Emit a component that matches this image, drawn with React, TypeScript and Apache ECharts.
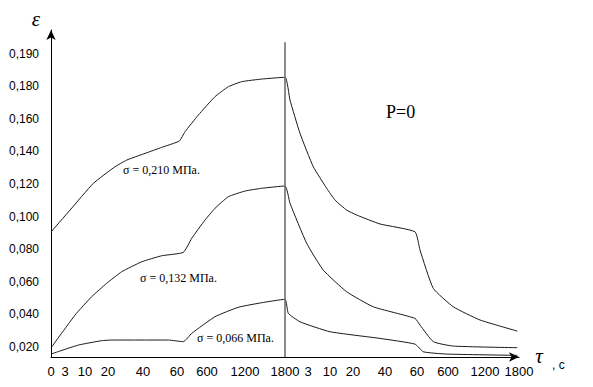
import React, { useEffect, useRef } from "react";
import * as echarts from "echarts";

// X axis: piecewise time scale, tick positions (axis units) and their labels (seconds)
const xTickPos = [0, 14, 34, 57, 92, 126, 156, 194, 234, 257, 279, 302, 334, 366, 397, 434, 468];
const xTickLabels = ["0", "3", "10", "20", "40", "60", "600", "1200", "1800", "3", "10", "20", "40", "60", "600", "1200", "1800"];

// Y axis: strain ticks and labels as printed
const yTickValues = [0.02, 0.04, 0.06, 0.08, 0.1, 0.12, 0.14, 0.16, 0.18, 0.2];
const yTickLabels = ["0,020", "0,040", "0,060", "0,080", "0,100", "0,120", "0,140", "0,160", "0,180", "0,190"];

const X_MAX = 468;
const Y_MIN = 0.0139;
const Y_MAX = 0.2145;
const UNLOAD_POS = 234; // 1800 s — unloading moment
const UNLOAD_TOP = 0.207;

// σ = 0,210 МПа
const curve210 = [
  [0, 0.0906], [19, 0.104], [42.3, 0.1204], [64, 0.1306], [75.7, 0.1347], [94, 0.1388],
  [110.7, 0.1425], [128.3, 0.1464], [134, 0.1521], [147.3, 0.1623], [164, 0.1736],
  [177.3, 0.1797], [190.7, 0.1828], [210.7, 0.1844], [234, 0.1855],
  [239, 0.1715], [249, 0.1511], [262.3, 0.1306], [275.7, 0.1174], [284, 0.1102],
  [295.7, 0.104], [305.7, 0.101], [329, 0.0955], [364, 0.0907], [369, 0.0795],
  [382.3, 0.056], [402.3, 0.0447], [429, 0.0366], [466.3, 0.0298],
];

// σ = 0,132 МПа
const curve132 = [
  [0, 0.0195], [24, 0.0396], [40.7, 0.0509], [55.7, 0.0591], [70.7, 0.0662], [90.7, 0.0723],
  [110.7, 0.076], [132.3, 0.0781], [140.7, 0.0867], [154, 0.0979], [164, 0.1051],
  [177.3, 0.1122], [194, 0.1157], [210.7, 0.1174], [234, 0.1188],
  [239, 0.1082], [255.7, 0.0836], [272.3, 0.0672], [295.7, 0.0539], [322.3, 0.0447],
  [364, 0.0376], [369, 0.0335], [382.3, 0.0233], [402.3, 0.0206], [466.3, 0.0196],
];

// σ = 0,066 МПа
const curve066 = [
  [0, 0.0157], [27.3, 0.0212], [50.7, 0.0239], [60.7, 0.0243], [117.3, 0.0243],
  [132.3, 0.0233], [140.7, 0.0284], [164, 0.0386], [187.3, 0.0444], [210.7, 0.0472],
  [234, 0.0493],
  [237.3, 0.0407], [249, 0.0355], [279, 0.0294], [329, 0.0253], [364, 0.0218],
  [372.3, 0.0171], [395.7, 0.0157], [466.3, 0.0149],
];

const curveColor = "#1a1a1a";

function lineSeries(name: string, data: number[][]) {
  return {
    name,
    type: "line",
    data,
    showSymbol: false,
    smooth: 0.15,
    lineStyle: { color: curveColor, width: 1 },
    silent: true,
  };
}

export default function App() {
  const ref = useRef<HTMLDivElement>(null);

  useEffect(() => {
    document.body.style.margin = "0";
    if (!ref.current) return;
    const chart = echarts.init(ref.current, null, { renderer: "svg" });
    const sansLabel = { color: "#000", fontFamily: "Liberation Sans, Arial, sans-serif" };
    chart.setOption({
      animation: false,
      backgroundColor: "#fff",
      grid: { left: 51, right: 74, top: 30, bottom: 30 },
      xAxis: {
        type: "value",
        min: 0,
        max: X_MAX,
        splitLine: { show: false },
        axisTick: { show: false },
        axisLine: {
          show: true,
          symbol: ["none", "arrow"],
          symbolSize: [7, 10],
          lineStyle: { color: "#000", width: 1 },
        },
        axisLabel: {
          ...sansLabel,
          fontSize: 13,
          margin: 8,
          customValues: xTickPos,
          formatter: (v: number) => {
            const i = xTickPos.findIndex((p) => Math.abs(p - v) < 0.01);
            return i >= 0 ? xTickLabels[i] : "";
          },
        },
      },
      yAxis: {
        type: "value",
        min: Y_MIN,
        max: Y_MAX,
        splitLine: { show: false },
        axisTick: { show: false },
        axisLine: {
          show: true,
          symbol: ["none", "arrow"],
          symbolSize: [7, 10],
          lineStyle: { color: "#000", width: 1 },
        },
        axisLabel: {
          ...sansLabel,
          fontSize: 12,
          margin: 12,
          customValues: yTickValues,
          formatter: (v: number) => {
            const i = yTickValues.findIndex((p) => Math.abs(p - v) < 1e-6);
            return i >= 0 ? yTickLabels[i] : "";
          },
        },
      },
      series: [
        {
          ...lineSeries("σ = 0,210 МПа.", curve210),
          markLine: {
            silent: true,
            symbol: ["none", "none"],
            label: { show: false },
            lineStyle: { color: "#666", width: 1.5, type: "solid" },
            data: [[{ coord: [UNLOAD_POS, Y_MIN] }, { coord: [UNLOAD_POS, UNLOAD_TOP] }]],
          },
        },
        lineSeries("σ = 0,132 МПа.", curve132),
        lineSeries("σ = 0,066 МПа.", curve066),
      ],
      graphic: [
        {
          type: "text",
          x: 123,
          y: 170,
          style: { text: "σ = 0,210 МПа.", fill: "#000", font: "12px 'Liberation Serif', serif", verticalAlign: "middle" },
        },
        {
          type: "text",
          x: 140,
          y: 278,
          style: { text: "σ = 0,132 МПа.", fill: "#000", font: "12px 'Liberation Serif', serif", verticalAlign: "middle" },
        },
        {
          type: "text",
          x: 197,
          y: 338,
          style: { text: "σ = 0,066 МПа.", fill: "#000", font: "12px 'Liberation Serif', serif", verticalAlign: "middle" },
        },
        {
          type: "text",
          x: 386,
          y: 112,
          style: { text: "P=0", fill: "#000", font: "18px 'Liberation Serif', serif", verticalAlign: "middle" },
        },
        {
          type: "text",
          x: 36,
          y: 19,
          style: { text: "ε", fill: "#000", font: "italic 21px 'Liberation Serif', serif", align: "center", verticalAlign: "middle" },
        },
        {
          type: "text",
          x: 539,
          y: 356,
          style: { text: "τ", fill: "#000", font: "italic 21px 'Liberation Serif', serif", align: "center", verticalAlign: "middle" },
        },
        {
          type: "text",
          x: 552,
          y: 365,
          style: { text: ", c", fill: "#000", font: "12px 'Liberation Sans', sans-serif", verticalAlign: "middle" },
        },
      ],
    });
    return () => chart.dispose();
  }, []);

  return <div ref={ref} style={{ width: 593, height: 387 }} />;
}
